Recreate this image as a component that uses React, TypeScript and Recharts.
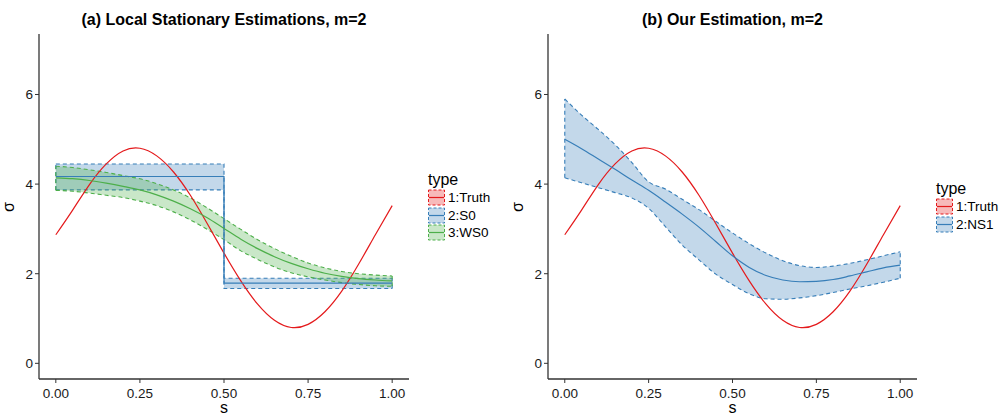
import React from 'react'
import { ComposedChart, Area, Line, XAxis, YAxis, ReferenceLine } from 'recharts'

const FONT = '"Liberation Sans", Arial, Helvetica, sans-serif'

// shared grid of s values (0 to 1 by 0.05)
const sGrid = [0, 0.05, 0.1, 0.15, 0.2, 0.25, 0.3, 0.35, 0.4, 0.45, 0.5, 0.55, 0.6, 0.65, 0.7, 0.75, 0.8, 0.85, 0.9, 0.95, 1]

// true sigma
const truthVals = [2.87, 3.42, 3.99, 4.45, 4.74, 4.8, 4.63, 4.27, 3.75, 3.12, 2.46, 1.84, 1.32, 0.96, 0.8, 0.87, 1.15, 1.61, 2.21, 2.87, 3.52]

// S0: piecewise constant estimate
const s0X = [0, 0.5, 0.5, 1]
const s0Mean = [4.17, 4.17, 1.79, 1.79]
const s0Lower = [3.87, 3.87, 1.67, 1.67]
const s0Upper = [4.45, 4.45, 1.9, 1.9]

// WS0: weighted local stationary estimate
const ws0Mean = [4.14, 4.12, 4.08, 4.02, 3.95, 3.87, 3.76, 3.62, 3.45, 3.25, 3.01, 2.77, 2.56, 2.38, 2.23, 2.11, 2.01, 1.94, 1.89, 1.86, 1.84]
const ws0Lower = [3.86, 3.84, 3.8, 3.75, 3.7, 3.62, 3.52, 3.38, 3.2, 2.99, 2.76, 2.51, 2.32, 2.15, 2.02, 1.93, 1.86, 1.8, 1.76, 1.73, 1.72]
const ws0Upper = [4.4, 4.37, 4.32, 4.26, 4.19, 4.12, 4.01, 3.87, 3.69, 3.47, 3.23, 2.99, 2.76, 2.56, 2.39, 2.24, 2.13, 2.05, 2.0, 1.97, 1.95]

// NS1: our nonstationary estimate
const ns1Mean = [5.0, 4.79, 4.56, 4.33, 4.09, 3.86, 3.6, 3.33, 3.04, 2.72, 2.4, 2.14, 1.96, 1.86, 1.82, 1.83, 1.87, 1.95, 2.04, 2.13, 2.19]
const ns1Lower = [4.14, 4.03, 3.92, 3.81, 3.69, 3.46, 3.05, 2.64, 2.31, 1.99, 1.76, 1.55, 1.44, 1.43, 1.46, 1.51, 1.58, 1.66, 1.73, 1.81, 1.9]
const ns1Upper = [5.9, 5.54, 5.22, 4.88, 4.48, 4.05, 3.89, 3.66, 3.43, 3.17, 2.91, 2.67, 2.46, 2.29, 2.18, 2.14, 2.17, 2.23, 2.31, 2.4, 2.49]

const xTicks = [0, 0.25, 0.5, 0.75, 1]
const yTicks = [0, 2, 4, 6]

const RED = '#E41A1C'
const BLUE = '#377EB8'
const GREEN = '#4DAF4A'

type Row = { s: number; mean: number; band: [number, number] }

const makeRows = (xs: number[], mean: number[], lo: number[], hi: number[]): Row[] =>
  xs.map((s, i) => ({ s, mean: mean[i], band: [lo[i], hi[i]] }))

const truthRows = makeRows(sGrid, truthVals, truthVals, truthVals)
const s0Rows = makeRows(s0X, s0Mean, s0Lower, s0Upper)
const ws0Rows = makeRows(sGrid, ws0Mean, ws0Lower, ws0Upper)
const ns1Rows = makeRows(sGrid, ns1Mean, ns1Lower, ns1Upper)

type Curve = 'monotone' | 'linear' | 'natural'
type Series = { key: string; label: string; color: string; rows: Row[]; curve: Curve; band: boolean }

const leftSeries: Series[] = [
  { key: 'truth', label: '1:Truth', color: RED, rows: truthRows, curve: 'natural', band: false },
  { key: 's0', label: '2:S0', color: BLUE, rows: s0Rows, curve: 'linear', band: true },
  { key: 'ws0', label: '3:WS0', color: GREEN, rows: ws0Rows, curve: 'monotone', band: true },
]

const rightSeries: Series[] = [
  { key: 'truth', label: '1:Truth', color: RED, rows: truthRows, curve: 'natural', band: false },
  { key: 'ns1', label: '2:NS1', color: BLUE, rows: ns1Rows, curve: 'monotone', band: true },
]

const axisColor = '#333'
const tickStyle = { fill: '#1a1a1a', fontSize: 13.5, fontFamily: FONT }

// ribbon: filled range with dashed outline incl. the two vertical ends
function renderBand(sr: Series) {
  const first = sr.rows[0]
  const last = sr.rows[sr.rows.length - 1]
  return [
    <Area
      key={sr.key + '-band'}
      data={sr.rows}
      dataKey="band"
      type={sr.curve}
      stroke={sr.color}
      strokeWidth={1.1}
      strokeDasharray="4 3"
      fill={sr.color}
      fillOpacity={0.3}
      dot={false}
      activeDot={false}
      isAnimationActive={false}
    />,
    <ReferenceLine
      key={sr.key + '-l'}
      segment={[{ x: first.s, y: first.band[0] }, { x: first.s, y: first.band[1] }]}
      stroke={sr.color}
      strokeWidth={1.1}
      strokeDasharray="4 3"
      ifOverflow="visible"
    />,
    <ReferenceLine
      key={sr.key + '-r'}
      segment={[{ x: last.s, y: last.band[0] }, { x: last.s, y: last.band[1] }]}
      stroke={sr.color}
      strokeWidth={1.1}
      strokeDasharray="4 3"
      ifOverflow="visible"
    />,
  ]
}

function TypeLegend({ left, top, items }: { left: number; top: number; items: Series[] }) {
  return (
    <div style={{ position: 'absolute', left, top, fontFamily: FONT, color: '#000' }}>
      <div style={{ fontSize: 16, lineHeight: '18px', height: 18 }}>type</div>
      {items.map(it => (
        <div key={it.key} style={{ display: 'flex', alignItems: 'center', height: 17.5 }}>
          <svg width={17} height={17} style={{ display: 'block' }}>
            <rect x={0.5} y={1} width={16} height={15} fill={it.color} fillOpacity={0.3} stroke={it.color} strokeDasharray="3 2" />
            <line x1={1} x2={16} y1={8.5} y2={8.5} stroke={it.color} strokeWidth={1.2} />
          </svg>
          <span style={{ marginLeft: 3, fontSize: 13.5, lineHeight: '17px' }}>{it.label}</span>
        </div>
      ))}
    </div>
  )
}

function Panel({ left, width, yAxisWidth, rightMargin, title, series, legendTop }: {
  left: number; width: number; yAxisWidth: number; rightMargin: number; title: string; series: Series[]; legendTop: number
}) {
  const top = 34
  const height = 415
  const plotLeft = yAxisWidth
  const plotWidth = width - yAxisWidth - rightMargin
  const plotBottom = 379
  return (
    <div style={{ position: 'absolute', left, top: 0, width, height }}>
      <div style={{
        position: 'absolute', left: plotLeft, width: plotWidth, top: 10, textAlign: 'center',
        fontFamily: FONT, fontWeight: 'bold', fontSize: 16, lineHeight: '20px', color: '#000', whiteSpace: 'nowrap',
      }}>{title}</div>
      <ComposedChart width={width} height={height} margin={{ top, right: rightMargin, bottom: 0, left: 0 }}>
        <XAxis
          type="number"
          dataKey="s"
          domain={[-0.05, 1.05]}
          ticks={xTicks}
          allowDataOverflow
          tickFormatter={(v: number) => v.toFixed(2)}
          tick={tickStyle}
          tickSize={4}
          tickMargin={5}
          height={height - plotBottom}
          axisLine={{ stroke: axisColor, strokeWidth: 1.3 }}
          tickLine={{ stroke: axisColor }}
        />
        <YAxis
          type="number"
          domain={[-0.35, 7.35]}
          ticks={yTicks}
          allowDataOverflow
          tick={tickStyle}
          tickSize={4}
          tickMargin={2}
          width={yAxisWidth}
          axisLine={{ stroke: axisColor, strokeWidth: 1.3 }}
          tickLine={{ stroke: axisColor }}
        />
        {series.filter(sr => sr.band).map(sr => renderBand(sr))}
        {series.map(sr => (
          <Line
            key={sr.key + '-line'}
            data={sr.rows}
            dataKey="mean"
            type={sr.curve}
            stroke={sr.color}
            strokeWidth={1.2}
            dot={false}
            activeDot={false}
            isAnimationActive={false}
          />
        ))}
      </ComposedChart>
      <div style={{
        position: 'absolute', left: plotLeft, width: plotWidth, top: 398, textAlign: 'center',
        fontFamily: FONT, fontSize: 16, lineHeight: '20px', color: '#000',
      }}>s</div>
      <div style={{
        position: 'absolute', left: yAxisWidth - 40, top: (top + plotBottom) / 2 - 10, width: 20, height: 20,
        textAlign: 'center', fontFamily: FONT, fontSize: 16, lineHeight: '20px', color: '#000', transform: 'rotate(-90deg)',
      }}>σ</div>
      <TypeLegend left={plotLeft + plotWidth + 19} top={legendTop} items={series} />
    </div>
  )
}

export default function App() {
  return (
    <div style={{ position: 'absolute', left: 0, top: 0, width: 1002, height: 415, background: '#fff', overflow: 'hidden' }}>
      <Panel left={0} width={500} yAxisWidth={39} rightMargin={91} title="(a) Local Stationary Estimations, m=2" series={leftSeries} legendTop={171} />
      <Panel left={500} width={502} yAxisWidth={48} rightMargin={85} title="(b) Our Estimation, m=2" series={rightSeries} legendTop={180} />
    </div>
  )
}
